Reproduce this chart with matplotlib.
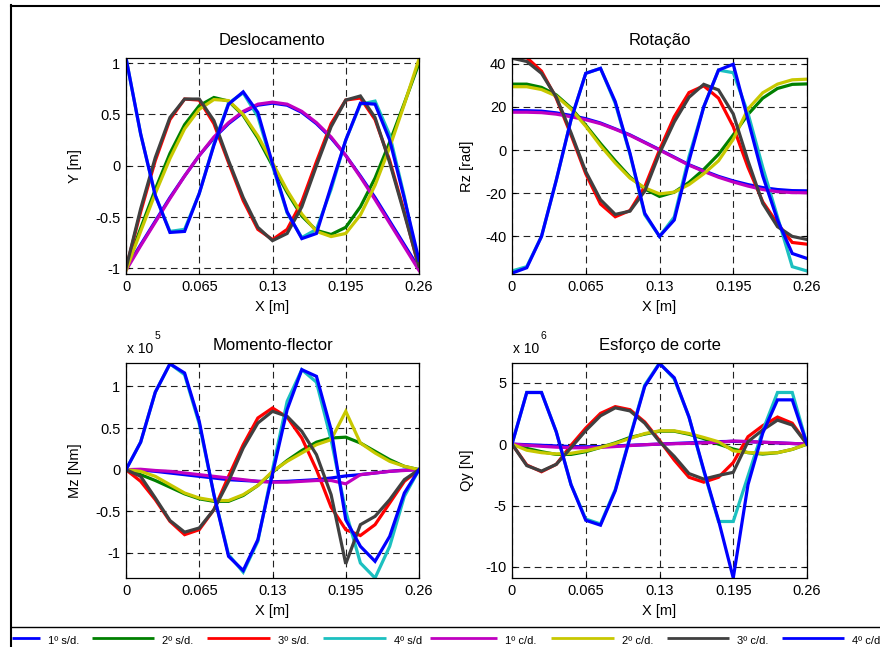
import matplotlib
matplotlib.use('Agg')
import matplotlib.pyplot as plt
from matplotlib.lines import Line2D
from matplotlib.transforms import ScaledTranslation

plt.rcParams['font.family'] = ['Liberation Sans', 'DejaVu Sans']
plt.rcParams['axes.unicode_minus'] = False

# ---------------- data ----------------
x_m = [0.0, 0.013, 0.026, 0.039, 0.052, 0.065, 0.078, 0.091, 0.104, 0.117, 0.13,
       0.143, 0.156, 0.169, 0.182, 0.195, 0.208, 0.221, 0.234, 0.247, 0.26]

series_labels = ['1º s/d.', '2º s/d.', '3º s/d.', '4º s/d', '1º c/d.', '2º c/d.', '3º c/d.', '4º c/d.']
series_colors = ['#0000ff', '#008000', '#ff0000', '#1cc0c0', '#c000c0', '#c8c800', '#404040', '#0000ff']

# Deslocamento  Y [m]
desl_1sd = [-1.0, -0.77, -0.54, -0.31, -0.10, 0.10, 0.27, 0.41, 0.52, 0.59, 0.61, 0.59, 0.52, 0.41, 0.27, 0.10, -0.10, -0.31, -0.54, -0.77, -1.0]
desl_2sd = [-1.0, -0.61, -0.23, 0.12, 0.40, 0.585, 0.665, 0.63, 0.49, 0.27, 0.0, -0.26, -0.49, -0.63, -0.67, -0.60, -0.40, -0.12, 0.23, 0.61, 1.0]
desl_3sd = [-1.0, -0.45, 0.05, 0.45, 0.65, 0.64, 0.41, 0.03, -0.34, -0.62, -0.72, -0.62, -0.35, 0.04, 0.41, 0.64, 0.66, 0.45, 0.05, -0.45, -1.0]
desl_4sd = [1.05, 0.31, -0.29, -0.64, -0.62, -0.27, 0.21, 0.61, 0.71, 0.48, 0.0, -0.46, -0.70, -0.62, -0.23, 0.25, 0.60, 0.63, 0.30, -0.30, -1.0]
desl_1cd = [-1.02, -0.78, -0.55, -0.32, -0.10, 0.10, 0.28, 0.42, 0.53, 0.60, 0.62, 0.60, 0.53, 0.42, 0.28, 0.10, -0.11, -0.33, -0.56, -0.79, -1.02]
desl_2cd = [-1.02, -0.64, -0.27, 0.07, 0.36, 0.55, 0.645, 0.635, 0.50, 0.29, 0.03, -0.24, -0.47, -0.64, -0.69, -0.66, -0.48, -0.19, 0.18, 0.60, 1.04]
desl_3cd = [-1.0, -0.42, 0.08, 0.47, 0.65, 0.65, 0.44, 0.05, -0.31, -0.60, -0.73, -0.66, -0.40, 0.0, 0.38, 0.64, 0.68, 0.47, 0.03, -0.47, -0.98]
desl_4cd = [1.05, 0.31, -0.29, -0.65, -0.64, -0.27, 0.20, 0.60, 0.72, 0.52, 0.02, -0.45, -0.71, -0.66, -0.20, 0.25, 0.61, 0.60, 0.25, -0.32, -0.92]

# Rotação  Rz [rad]
rot_1sd = [18.3, 18.2, 18.0, 17.2, 16.0, 14.5, 12.5, 9.8, 7.0, 3.6, 0.2, -3.3, -6.8, -9.6, -12.2, -14.3, -16.0, -17.4, -18.3, -18.8, -18.9]
rot_2sd = [30.5, 30.5, 29.0, 25.5, 19.5, 11.5, 3.0, -5.0, -12.5, -18.0, -21.5, -19.5, -15.0, -9.0, -2.0, 7.0, 16.5, 24.0, 28.5, 30.4, 30.6]
rot_3sd = [42.8, 42.8, 36.5, 24.0, 7.0, -11.0, -25.0, -30.9, -28.0, -17.0, 0.0, 15.4, 26.6, 29.7, 24.0, 10.8, -8.0, -24.0, -34.0, -42.8, -43.6]
rot_4sd = [-56.0, -54.0, -40.0, -14.0, 14.0, 35.5, 37.8, 21.6, -2.0, -30.0, -40.0, -31.0, -3.0, 20.0, 37.0, 35.8, 17.0, -8.0, -31.0, -54.0, -56.0]
rot_1cd = [17.5, 17.5, 17.3, 16.6, 15.4, 14.0, 12.2, 9.6, 6.8, 3.4, 0.0, -3.5, -7.0, -9.9, -12.6, -14.8, -16.7, -18.3, -19.3, -19.7, -19.8]
rot_2cd = [29.3, 29.3, 28.0, 25.0, 19.0, 11.0, 2.0, -6.0, -13.0, -17.5, -20.3, -19.5, -16.0, -11.0, -5.0, 5.0, 19.0, 26.5, 30.5, 32.5, 32.8]
rot_3cd = [42.5, 41.0, 35.5, 24.5, 8.0, -10.0, -23.0, -29.8, -28.3, -19.0, -1.5, 13.0, 24.4, 30.4, 27.8, 16.7, -5.0, -24.7, -35.5, -40.0, -41.4]
rot_4cd = [-57.0, -54.5, -40.0, -14.0, 14.0, 35.5, 37.8, 22.4, -1.5, -29.3, -40.0, -32.4, -5.0, 20.0, 37.0, 39.7, 14.0, -12.0, -32.4, -47.9, -50.2]

# Momento-flector  Mz [Nm]  (x 10^5)
mom_1sd = [0.0, -0.005, -0.02, -0.04, -0.06, -0.08, -0.10, -0.12, -0.13, -0.14, -0.145, -0.14, -0.13, -0.12, -0.10, -0.075, -0.06, -0.04, -0.02, -0.005, 0.0]
mom_2sd = [0.0, -0.06, -0.13, -0.21, -0.29, -0.35, -0.38, -0.38, -0.31, -0.19, -0.03, 0.11, 0.23, 0.33, 0.38, 0.39, 0.32, 0.22, 0.12, 0.04, 0.0]
mom_3sd = [0.0, -0.14, -0.36, -0.62, -0.78, -0.72, -0.48, -0.08, 0.30, 0.62, 0.74, 0.63, 0.38, 0.0, -0.45, -0.72, -0.79, -0.66, -0.40, -0.14, 0.0]
mom_4sd = [0.0, 0.33, 0.93, 1.27, 1.14, 0.55, -0.30, -1.02, -1.23, -0.86, 0.0, 0.82, 1.20, 1.05, 0.36, -0.50, -1.12, -1.30, -0.92, -0.32, 0.0]
mom_1cd = [0.0, 0.005, -0.01, -0.02, -0.04, -0.06, -0.08, -0.10, -0.12, -0.14, -0.15, -0.15, -0.14, -0.13, -0.13, -0.17, -0.06, -0.04, -0.02, -0.01, 0.0]
mom_2cd = [0.0, -0.02, -0.08, -0.18, -0.28, -0.34, -0.37, -0.37, -0.30, -0.19, -0.02, 0.10, 0.20, 0.30, 0.36, 0.70, 0.32, 0.20, 0.10, 0.04, 0.0]
mom_3cd = [0.0, -0.08, -0.34, -0.61, -0.75, -0.70, -0.48, -0.14, 0.26, 0.56, 0.70, 0.64, 0.46, 0.18, -0.30, -1.13, -0.66, -0.56, -0.36, -0.12, 0.0]
mom_4cd = [0.0, 0.33, 0.93, 1.27, 1.16, 0.58, -0.30, -1.04, -1.21, -0.84, -0.05, 0.72, 1.20, 1.12, 0.48, -0.60, -0.92, -1.10, -0.80, -0.28, 0.0]

# Esforço de corte  Qy [N]  (x 10^6)
cor_1sd = [0.0, -0.05, -0.10, -0.15, -0.20, -0.22, -0.20, -0.15, -0.10, -0.05, 0.0, 0.05, 0.10, 0.15, 0.20, 0.22, 0.20, 0.15, 0.10, 0.05, 0.0]
cor_2sd = [0.0, -0.35, -0.62, -0.84, -0.84, -0.62, -0.27, 0.10, 0.54, 0.81, 1.05, 1.05, 0.80, 0.45, 0.0, -0.40, -0.70, -0.81, -0.70, -0.43, 0.0]
cor_3sd = [0.0, -1.70, -2.25, -1.65, -0.10, 1.30, 2.50, 3.05, 2.80, 1.80, 0.30, -1.30, -2.70, -3.10, -2.70, -1.50, 0.60, 1.50, 2.20, 1.70, 0.0]
cor_4sd = [0.0, 4.2, 4.2, 1.0, -3.3, -6.1, -6.5, -3.7, 0.6, 4.8, 6.6, 5.3, 2.2, -2.2, -6.3, -6.3, -2.6, 1.1, 4.2, 4.2, 0.0]
cor_1cd = [0.0, -0.10, -0.18, -0.25, -0.30, -0.30, -0.27, -0.20, -0.12, -0.05, 0.0, 0.03, 0.06, 0.10, 0.15, 0.25, 0.20, 0.15, 0.10, 0.05, 0.0]
cor_2cd = [0.0, -0.50, -0.70, -0.80, -0.75, -0.55, -0.27, 0.05, 0.46, 0.86, 1.08, 1.08, 0.86, 0.54, 0.19, -0.55, -0.68, -0.75, -0.70, -0.43, 0.0]
cor_3cd = [0.0, -1.75, -2.20, -1.65, -0.30, 1.10, 2.30, 2.95, 2.70, 1.70, 0.20, -1.00, -2.40, -2.85, -2.55, -2.30, 0.20, 1.15, 1.95, 1.55, 0.0]
cor_4cd = [0.0, 4.2, 4.2, 1.0, -3.3, -6.2, -6.6, -3.8, 0.5, 4.7, 6.55, 5.4, 2.2, -2.1, -6.2, -10.9, -3.3, 0.9, 3.6, 3.6, 0.0]

x_ticks = [0, 0.065, 0.13, 0.195, 0.26]
x_ticklabels = ['0', '0.065', '0.13', '0.195', '0.26']

panels = [
    dict(title='Deslocamento', ylabel='Y [m]',
         data=[desl_1sd, desl_2sd, desl_3sd, desl_4sd, desl_1cd, desl_2cd, desl_3cd, desl_4cd],
         ylim=(-1.055, 1.05), yticks=[-1, -0.5, 0, 0.5, 1], yticklabels=['-1', '-0.5', '0', '0.5', '1'],
         exp=None),
    dict(title='Rotação', ylabel='Rz [rad]',
         data=[rot_1sd, rot_2sd, rot_3sd, rot_4sd, rot_1cd, rot_2cd, rot_3cd, rot_4cd],
         ylim=(-57.4, 42.6), yticks=[-40, -20, 0, 20, 40], yticklabels=['-40', '-20', '0', '20', '40'],
         exp=None),
    dict(title='Momento-flector', ylabel='Mz [Nm]',
         data=[mom_1sd, mom_2sd, mom_3sd, mom_4sd, mom_1cd, mom_2cd, mom_3cd, mom_4cd],
         ylim=(-1.30, 1.28), yticks=[-1, -0.5, 0, 0.5, 1], yticklabels=['-1', '-0.5', '0', '0.5', '1'],
         exp='5'),
    dict(title='Esforço de corte', ylabel='Qy [N]',
         data=[cor_1sd, cor_2sd, cor_3sd, cor_4sd, cor_1cd, cor_2cd, cor_3cd, cor_4cd],
         ylim=(-10.9, 6.6), yticks=[-10, -5, 0, 5], yticklabels=['-10', '-5', '0', '5'],
         exp='6'),
]

# ---------------- layout ----------------
W, H = 880, 647
fig = plt.figure(figsize=(W / 100, H / 100), dpi=100)
fig.patch.set_facecolor('white')


def rect(l, t, r, b):
    return [l / W, 1 - b / H, (r - l) / W, (b - t) / H]


def fx(x):
    return x / W


def fy(y):
    return 1 - y / H


rects = [rect(126, 58, 419, 274), rect(512, 58, 807, 274),
         rect(126, 363, 419, 578), rect(512, 363, 807, 578)]
ylabel_x = [-0.15, -0.1305, -0.15, -0.1305]

for p, r, ylx in zip(panels, rects, ylabel_x):
    ax = fig.add_axes(r)
    for vals, col in zip(p['data'], series_colors):
        ax.plot(x_m, vals, color=col, lw=2.3, solid_joinstyle='miter')
    ax.set_xlim(0, 0.26)
    ax.set_ylim(*p['ylim'])
    ax.set_xticks(x_ticks)
    ax.set_xticklabels(x_ticklabels)
    ax.set_yticks(p['yticks'])
    ax.set_yticklabels(p['yticklabels'])
    ax.set_axisbelow(True)
    ax.grid(True, color='#222222', linestyle=(0, (6, 4)), linewidth=0.8)
    ax.tick_params(direction='in', length=3, width=0.8, labelsize=10.5, pad=4,
                   top=True, right=True, colors='black')
    for s in ax.spines.values():
        s.set_linewidth(0.9)
        s.set_color('black')
    ax.set_title(p['title'], fontsize=12, pad=9.5)
    ax.set_xlabel('X [m]', fontsize=10.5, labelpad=5)
    ax.set_ylabel(p['ylabel'], fontsize=10.5)
    ax.yaxis.set_label_coords(ylx, 0.5)
    if p['exp'] is not None:
        off1 = ScaledTranslation(1 / 100, 10.3 / 100, fig.dpi_scale_trans)
        ax.text(0.0, 1.0, 'x 10', transform=ax.transAxes + off1, fontsize=10,
                ha='left', va='baseline')
        off2 = ScaledTranslation(28.5 / 100, 23.7 / 100, fig.dpi_scale_trans)
        ax.text(0.0, 1.0, p['exp'], transform=ax.transAxes + off2, fontsize=7.5,
                ha='left', va='baseline')

# outer frame lines
fig.add_artist(Line2D([fx(11), fx(11)], [fy(5), 0], color='black', lw=1.5, transform=fig.transFigure))
fig.add_artist(Line2D([fx(11), 1], [fy(5.5), fy(5.5)], color='black', lw=1.5, transform=fig.transFigure))
fig.add_artist(Line2D([fx(11), 1], [fy(627), fy(627)], color='black', lw=1.0, transform=fig.transFigure))

# legend strip (partly cut by the frame on both sides)
leg_lines = [(12, 40), (92, 154), (207, 270), (323, 386), (430, 497), (551, 614), (667, 729), (782, 844)]
for (a, b), lab, col in zip(leg_lines, series_labels, series_colors):
    fig.add_artist(Line2D([fx(a), fx(b)], [fy(638), fy(638)], color=col, lw=2.0,
                          transform=fig.transFigure, solid_capstyle='butt'))
    fig.text(fx(b + 8), fy(641), lab, fontsize=8, ha='left', va='center')

fig.savefig('out.png', dpi=100, facecolor='white')
